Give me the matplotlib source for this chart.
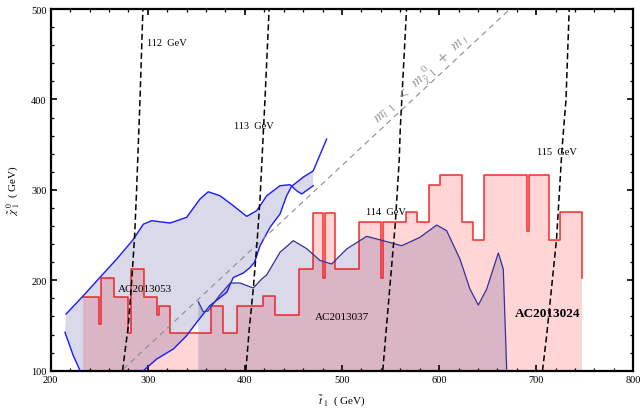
import numpy as np
import matplotlib
matplotlib.use("Agg")
import matplotlib.pyplot as plt

plt.rcParams['font.family'] = ['Liberation Serif', 'DejaVu Serif']
plt.rcParams['mathtext.fontset'] = 'stix'

# ---------------- data ----------------
# AC2013024 step histogram (bin edges and levels)
red_edges = [233.6, 249.7, 251.5, 265.5, 280.0, 282.4, 296.4, 309.8, 311.5, 322.9,
             365.1, 377.8, 391.5, 418.3, 431.0, 456.0, 469.8, 480.1, 482.5, 493.1,
             517.8, 540.0, 542.0, 565.6, 576.9, 589.6, 600.9, 623.3, 634.6, 646.6,
             690.2, 692.2, 713.5, 724.5, 746.9]
red_levels = [182, 152, 203, 182, 142, 213, 182, 162, 172, 142,
              172, 142, 172, 183, 162, 213, 274, 203, 274, 213,
              265, 203, 265, 275, 265, 305, 316, 265, 244.5, 316,
              255, 316, 245, 275]
red_end_level = 203

# AC2013053 band: line A (upper-left start) and line B (lower start)
a053_x = [215.8, 233.6, 250.8, 268.0, 285.0, 295.4, 304.0, 322.9, 340.0, 353.8,
          362.3, 374.4, 388.0, 401.9, 412.2, 422.5, 436.2, 446.5, 453.3, 458.5, 470.4]
a053_y = [162.6, 182.9, 203.3, 223.5, 245.0, 262.0, 265.9, 263.3, 269.6, 289.9,
          297.9, 293.5, 282.5, 270.7, 277.0, 293.5, 304.6, 305.7, 299.0, 295.4, 304.6]
b053_x = [214.7, 223.3, 229.5, 233.0, 290.0, 295.4, 309.2, 326.3, 340.0, 350.4,
          364.0, 381.3, 388.0, 398.4, 405.2, 410.0, 415.6, 425.9, 436.2, 443.0,
          448.2, 460.0, 470.4, 484.2]
b053_y = [142.5, 116.6, 101.9, 95.0, 95.0, 100.0, 112.9, 124.0, 138.7, 153.5,
          172.0, 186.7, 203.0, 208.0, 214.0, 220.0, 238.2, 258.6, 273.3, 293.5,
          304.0, 314.0, 321.0, 356.2]

# AC2013037 boundary
c037_x = [352.0, 357.2, 362.0, 374.4, 385.0, 395.0, 408.7, 417.3, 422.5, 436.2,
          449.9, 463.6, 477.3, 489.4, 504.8, 525.4, 542.5, 561.5, 580.3, 597.5,
          607.8, 621.5, 631.8, 640.4, 649.0, 661.0, 666.1, 669.6, 670.3]
c037_y = [176.3, 165.2, 166.0, 184.0, 197.0, 197.0, 191.5, 201.4, 206.0, 231.0,
          243.8, 235.0, 222.0, 218.0, 234.6, 248.6, 243.8, 238.2, 247.5, 261.1,
          254.8, 223.5, 190.3, 172.6, 190.3, 230.2, 212.5, 101.9, 95.0]

# Higgs-mass contours (x positions at given y)
h_y = {
    '112': [100, 150, 200, 250, 300, 400, 500],
    '113': [100, 146, 190, 246, 290, 400, 500],
    '114': [100, 194, 264, 334, 367, 500],
    '115': [100, 139, 246, 344, 400, 500],
}
h_x = {
    '112': [274.0, 280.0, 283.5, 286.5, 288.5, 292.0, 295.0],
    '113': [401.0, 404.5, 408.6, 412.8, 415.6, 420.7, 425.0],
    '114': [542.0, 549.4, 555.0, 559.0, 560.0, 566.5],
    '115': [706.5, 710.8, 721.0, 726.5, 730.7, 734.0],
}
h_label_pos = {'112': (299, 463), '113': (389, 371), '114': (525, 276), '115': (701, 342)}

m_top = 173.0

# ---------------- figure ----------------
fig = plt.figure(figsize=(6.43, 4.10), dpi=100)
ax = fig.add_axes([0.0788, 0.0934, 0.9061, 0.8822])
ax.set_xlim(200, 800)
ax.set_ylim(100, 500)

# red step histogram
e = np.array(red_edges)
l = np.array(red_levels)
sx = np.repeat(e, 2)[1:-1]
sy = np.repeat(l, 2)
line_x = np.append(sx, e[-1])
line_y = np.append(sy, red_end_level)
fill_x = np.concatenate([sx, [e[-1], e[-1], e[0]]])
fill_y = np.concatenate([sy, [red_end_level, 90, 90]])
ax.fill(fill_x, fill_y, color=(1.0, 0.0, 0.0), alpha=0.165, lw=0, zorder=1)

# AC2013053 band
ax_ = np.array(a053_x); ay_ = np.array(a053_y)
bx_ = np.array(b053_x); by_ = np.array(b053_y)
mask = bx_ <= 470.4
poly_x = np.concatenate([ax_, bx_[mask][::-1]])
poly_y = np.concatenate([ay_, by_[mask][::-1]])
lav = (0.01, 0.01, 0.45)
ax.fill(poly_x, poly_y, color=lav, alpha=0.15, lw=0, zorder=2)

# AC2013037 region
cx = np.array(c037_x); cy = np.array(c037_y)
ax.fill(np.concatenate([[cx[0]], cx, [cx[-1]]]),
        np.concatenate([[90], cy, [90]]), color=lav, alpha=0.15, lw=0, zorder=2)

ax.plot(line_x, line_y, color=(0.95, 0.0, 0.0), lw=1.2, alpha=0.75, zorder=3)

ax.plot(ax_, ay_, color=(0.1, 0.1, 1.0), lw=1.0, zorder=4)
ax.plot(bx_, by_, color=(0.1, 0.1, 1.0), lw=1.0, zorder=4)
ax.plot(cx, cy, color=(0.2, 0.2, 0.6), lw=0.9, zorder=4)

# kinematic line
kx = np.array([200.0, 800.0])
ax.plot(kx, kx - m_top, color='0.55', lw=0.8, dashes=(5, 4), zorder=5)
ax.text(582, 424,
        r'$m_{\tilde{t}\ \ 1}\ \ <\ \ m_{\tilde{\chi}\ \ 1}^{\ \ 0}\ \ +\ \ m_{\ t}$',
        color='0.58', fontsize=10.5, rotation=43, ha='center', va='center',
        rotation_mode='anchor', zorder=6)

# Higgs mass contours
for k in h_x:
    ax.plot(h_x[k], h_y[k], color='black', lw=1.1, dashes=(4, 2.2), zorder=5)
    tx, ty = h_label_pos[k]
    ax.text(tx, ty, f'{k}  GeV', fontsize=7.5, ha='left', va='center', zorder=6)

ax.text(297.6, 191, 'AC2013053', fontsize=8, ha='center', va='center', zorder=6)
ax.text(500.5, 160, 'AC2013037', fontsize=8, ha='center', va='center', zorder=6)
ax.text(711.7, 164, 'AC2013024', fontsize=9.5, fontweight='bold', ha='center',
        va='center', zorder=6)

# axes styling
for s in ax.spines.values():
    s.set_linewidth(1.6)
ax.set_xticks([200, 300, 400, 500, 600, 700, 800])
ax.set_yticks([100, 200, 300, 400, 500])
ax.set_xticks(np.arange(200, 801, 20), minor=True)
ax.set_yticks(np.arange(100, 501, 20), minor=True)
ax.tick_params(which='both', direction='in', top=True, right=True, labelsize=7.5, pad=3)
ax.tick_params(which='major', length=4, width=1.2)
ax.tick_params(which='minor', length=2.2, width=0.9)

ax.set_xlabel(r'$\tilde{t}_{\ 1}$  ( GeV)', fontsize=8, labelpad=6)
ax.set_ylabel(r'$\tilde{\chi}_{\ 1}^{\ 0}$  ( GeV)', fontsize=8, labelpad=6)

fig.savefig('out.png', dpi=100)
